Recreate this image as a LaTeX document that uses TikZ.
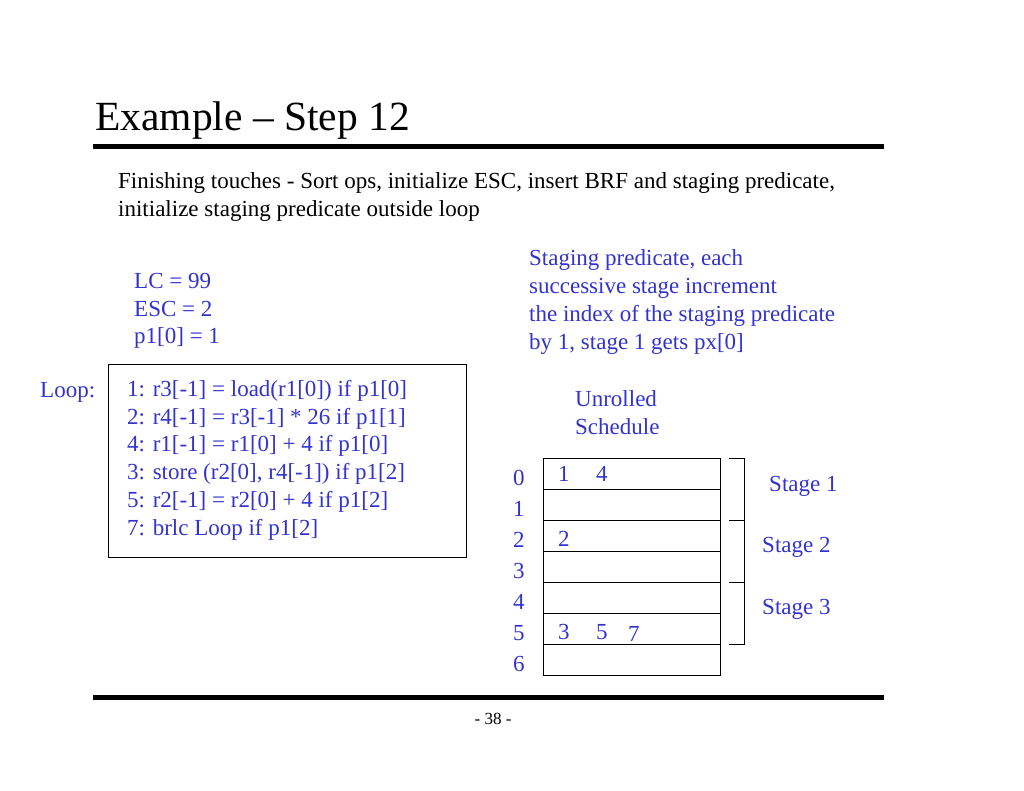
\documentclass[tikz,border=0pt]{standalone}
\usepackage{fontspec}
\setmainfont{Liberation Serif}
\definecolor{bl}{RGB}{51,51,204}
\begin{document}
\begin{tikzpicture}[x=1pt,y=-1pt,
 txt/.style={anchor=west,inner sep=0pt,font=\fontsize{23}{27.8}\selectfont,align=left},
 btxt/.style={txt,text=bl},
 rowbox/.style={draw,line width=0.8pt,minimum width=177pt,minimum height=31pt,inner sep=0pt}]
\useasboundingbox (0,0) rectangle (1024,791);
\node[anchor=west,inner sep=0pt,font=\fontsize{41.5}{44}\selectfont] (title) at (95,121) {Example -- Step 12};
\draw[line width=5pt] (93,147) -- (884,147);
\draw[line width=5pt] (93,697) -- (884,697);
\node[txt,font=\fontsize{23}{28}\selectfont] (intro) at (118,197) {Finishing touches - Sort ops, initialize ESC, insert BRF and staging predicate,\\initialize staging predicate outside loop};
\node[btxt] (init) at (134,311) {LC = 99\\ESC = 2\\p1[0] = 1};
\node[btxt] (stg) at (529,302) {Staging predicate, each\\successive stage increment\\the index of the staging predicate\\by 1, stage 1 gets px[0]};
\draw[line width=0.8pt] (108,364) rectangle (466,557);
\node[btxt] (loop) at (40,392) {Loop:};
\node[btxt,anchor=north west] (code) at (127,380) {1: r3[-1] = load(r1[0]) if p1[0]\\2: r4[-1] = r3[-1] * 26 if p1[1]\\4: r1[-1] = r1[0] + 4 if p1[0]\\3: store (r2[0], r4[-1]) if p1[2]\\5: r2[-1] = r2[0] + 4 if p1[2]\\7: brlc Loop if p1[2]};
\node[btxt] (unr) at (575,413) {Unrolled\\Schedule};
\foreach \i in {0,...,6}{
  \node[rowbox,anchor=north west] (r\i) at (543,{458+31*\i}) {};
  \node[btxt] (n\i) at (513,{478+31*\i}) {\i};
}
\node[btxt] at (558,474) {1};
\node[btxt] at (596,474) {4};
\node[btxt] at (558,539) {2};
\node[btxt] at (558,632) {3};
\node[btxt] at (596,632) {5};
\node[btxt] at (628,634) {7};
\draw[line width=0.8pt] (729,458) -- (744,458) -- (744,644) -- (729,644);
\draw[line width=0.8pt] (729,520) -- (744,520);
\draw[line width=0.8pt] (729,582) -- (744,582);
\node[btxt] (s1) at (769,486) {Stage 1};
\node[btxt] (s2) at (762,547) {Stage 2};
\node[btxt] (s3) at (762,609) {Stage 3};
\node[anchor=center,inner sep=0pt,font=\fontsize{17}{18}\selectfont] (pg) at (493,719) {- 38 -};
\end{tikzpicture}
\end{document}
